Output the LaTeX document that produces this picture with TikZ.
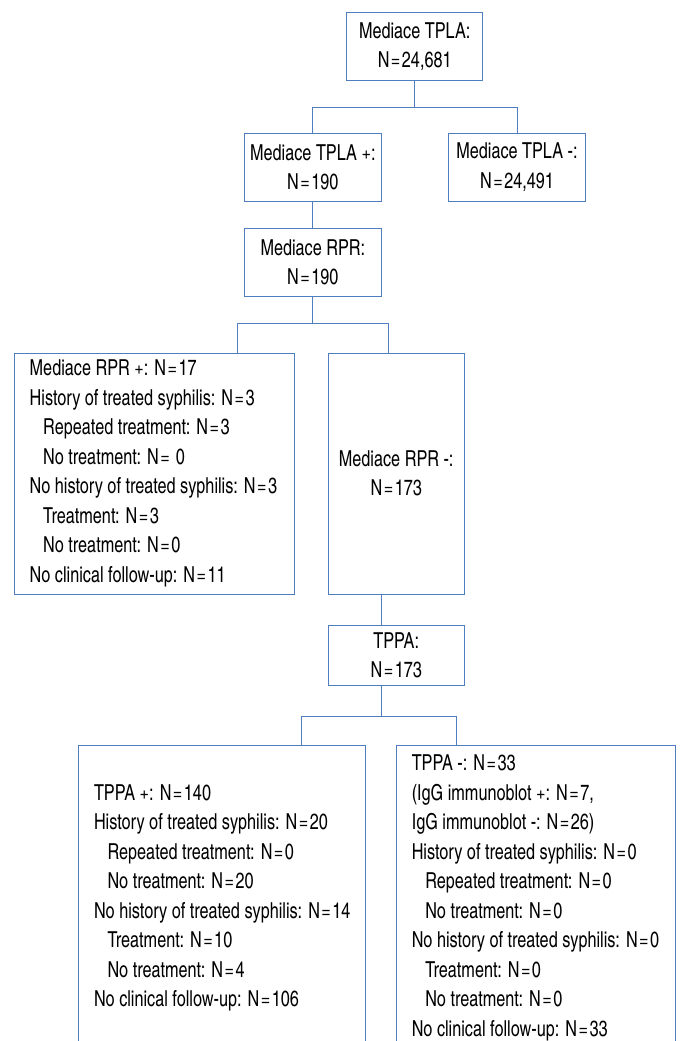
\documentclass[tikz,border=0pt]{standalone}
\usepackage{fontspec}
\setmainfont{texgyreheroscn}[Extension=.otf,UprightFont=*-regular,BoldFont=*-bold,FakeStretch=0.9]
\usepackage{tikz}
\usetikzlibrary{positioning, calc}
\definecolor{flowblue}{RGB}{79,126,192}
\newcommand{\Neq}{N\kern1.5pt=\kern1.5pt}
\newcommand{\indentsub}{\hspace*{13.5pt}}

\begin{document}
\begin{tikzpicture}[x=1pt,y=-1pt,
        box/.style={draw=flowblue, line width=1pt, inner sep=0pt, align=center,
            font=\fontsize{22}{29.5}\selectfont},
        listtext/.style={inner sep=0pt, align=left, anchor=west,
            font=\fontsize{22}{29.5}\selectfont},
        link/.style={draw=flowblue, line width=1pt}]
        \useasboundingbox (0,0) rectangle (681,1041);
        \clip (0,0) rectangle (681,1041);

        \node[box, minimum width=136pt, minimum height=68pt] (tpla) at (414.7,46.7) {Mediace TPLA:\\\Neq 24,681};
        \node[box, minimum width=136.3pt, minimum height=68.5pt] (tplapos) at (312.85,167.3) {Mediace TPLA +:\\\Neq 190};
        \node[box, minimum width=136.6pt, minimum height=67.7pt] (tplaneg) at (517,167.2) {Mediace TPLA -:\\\Neq 24,491};
        \node[box, minimum width=136.3pt, minimum height=67.7pt] (rpr) at (312.85,262.2) {Mediace RPR:\\\Neq 190};
        \node[box, minimum width=280pt, minimum height=241pt] (rprpos) at (154,473.5) {};
        \node[box, minimum width=136.3pt, minimum height=241pt] (rprneg) at (396.2,473.5) {Mediace RPR -:\\\Neq 173};
        \node[box, minimum width=136.3pt, minimum height=60.7pt] (tppa) at (396.2,655.4) {TPPA:\\\Neq 173};
        \node[box, minimum width=287.4pt, minimum height=304.6pt] (tppapos) at (222,898) {};
        \node[box, minimum width=279.7pt, minimum height=304.6pt] (tppaneg) at (535.9,898) {};

        \node[listtext] (rprpostext) at ([xshift=16pt]rprpos.west) {%
            Mediace RPR +: \Neq 17\\
            History of treated syphilis: \Neq 3\\
            \indentsub Repeated treatment: \Neq 3\\
            \indentsub No treatment: \Neq\ 0\\
            No history of treated syphilis: \Neq 3\\
            \indentsub Treatment: \Neq 3\\
            \indentsub No treatment: \Neq 0\\
            No clinical follow-up: \Neq 11};
        \node[listtext] (tppapostext) at ([xshift=16pt]tppapos.west) {%
            TPPA +: \Neq 140\\
            History of treated syphilis: \Neq 20\\
            \indentsub Repeated treatment: \Neq 0\\
            \indentsub No treatment: \Neq 20\\
            No history of treated syphilis: \Neq 14\\
            \indentsub Treatment: \Neq 10\\
            \indentsub No treatment: \Neq 4\\
            No clinical follow-up: \Neq 106};
        \node[listtext] (tppanegtext) at ([xshift=16pt]tppaneg.west) {%
            TPPA -: \Neq 33\\
            (IgG immunoblot +: \Neq 7,\\
            IgG immunoblot -: \Neq 26)\\
            History of treated syphilis: \Neq 0\\
            \indentsub Repeated treatment: \Neq 0\\
            \indentsub No treatment: \Neq 0\\
            No history of treated syphilis: \Neq 0\\
            \indentsub Treatment: \Neq 0\\
            \indentsub No treatment: \Neq 0\\
            No clinical follow-up: \Neq 33};

        \draw[link] (tpla.south) -- ++(0,26.6) coordinate (j1);
        \draw[link] (tplapos.north) |- (j1) -| (tplaneg.north);
        \draw[link] (tplapos.south) -- (rpr.north);
        \draw[link] (rpr.south) -- ++(0,26.7) coordinate (j2);
        \draw[link] ([xshift=83pt]rprpos.north) |- (j2) -| ([xshift=-8.2pt]rprneg.north);
        \draw[link] ([xshift=-15.2pt]rprneg.south) -- ([xshift=-15.2pt]tppa.north);
        \draw[link] ([xshift=-15.2pt]tppa.south) -- ++(0,30) coordinate (j3);
        \draw[link] ([xshift=79.3pt]tppapos.north) |- (j3) -| ([xshift=-79.2pt]tppaneg.north);
\end{tikzpicture}
\end{document}
